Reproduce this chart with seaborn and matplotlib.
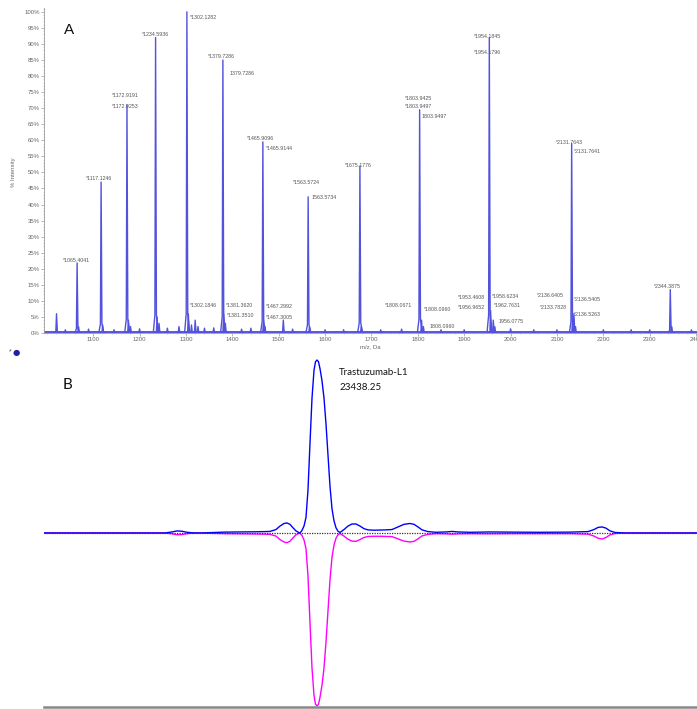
import matplotlib
matplotlib.use("Agg")
import matplotlib.pyplot as plt
import seaborn as sns
import pandas as pd
from matplotlib.ticker import MultipleLocator

sns.set_theme(style="white")
plt.rcParams["font.family"] = ["Liberation Sans", "DejaVu Sans"]

# ---------------- Panel A data (m/z spectrum) ----------------
peak_mz = [1021.0, 1065.40, 1068.5, 1117.12, 1120.5, 1172.92, 1176.0, 1180.5,
           1234.59, 1237.8, 1242.0, 1302.13, 1305.2, 1312.0, 1320.0, 1326.0,
           1379.73, 1381.36, 1385.0, 1465.91, 1467.30, 1470.5, 1510.0,
           1563.57, 1566.5, 1675.18, 1678.0, 1803.94, 1808.07, 1812.0,
           1954.18, 1956.97, 1962.76, 1966.0, 2131.76, 2133.78, 2136.64, 2140.0,
           2344.39, 2347.5]
peak_int = [6.0, 21.8, 2.0, 47.0, 2.5, 71.0, 4.0, 2.0,
            92.0, 5.0, 3.0, 100.0, 6.0, 2.5, 4.0, 2.0,
            85.0, 6.0, 3.0, 59.5, 4.0, 2.0, 4.0,
            42.4, 2.0, 52.0, 2.0, 69.5, 4.0, 2.0,
            92.0, 7.0, 4.0, 2.0, 59.0, 5.0, 6.0, 2.0,
            13.5, 2.0]
noise_mz = [1040, 1090, 1145, 1200, 1260, 1285, 1340, 1360, 1420, 1440, 1530, 1600,
            1640, 1720, 1765, 1850, 1900, 2000, 2050, 2100, 2200, 2260, 2300, 2390]
noise_int = [1.0, 1.2, 1.0, 1.3, 1.5, 2.0, 1.5, 1.6, 1.2, 1.5, 1.2, 1.0,
             1.0, 1.0, 1.2, 1.0, 1.0, 1.3, 1.0, 1.0, 1.0, 1.0, 1.0, 1.0]

label_text = ["*1065.4041", "*1117.1246", "*1172.9191", "*1172.9253", "*1234.5936",
              "*1302.1282", "*1379.7286", "1379.7286", "*1465.9096", "*1465.9144",
              "*1563.5724", "1563.5734", "*1675.1776", "*1803.9425", "*1803.9497",
              "1803.9497", "*1954.1845", "*1954.1796", "*2131.7643", "*2131.7641",
              "*2344.3875", "*1302.1846", "*1381.3620", "*1381.3510", "*1467.2992",
              "*1467.3005", "*1808.0671", "*1808.0960", "1808.0960", "*1953.4608",
              "*1958.6234", "*1956.9652", "*1962.7631", "1956.0775", "*2136.6405",
              "*2136.5405", "*2133.7828", "*2136.5263"]
label_mz = [1035.1, 1084.6, 1140.6, 1140.6, 1205.2,
            1308.5, 1347.3, 1394.6, 1431.2, 1472.1,
            1530.2, 1571.1, 1642.2, 1771.4, 1771.4,
            1808.0, 1922.0, 1922.0, 2098.5, 2137.3,
            2309.6, 1308.5, 1386.0, 1388.0, 1472.0,
            1472.0, 1728.2, 1812.3, 1825.2, 1885.5,
            1960.8, 1885.5, 1965.1, 1973.7, 2057.7,
            2137.3, 2064.2, 2137.3]
label_pct = [22.7, 48.0, 73.8, 70.4, 93.1,
             98.1, 86.0, 80.7, 60.7, 57.3,
             47.0, 42.1, 52.3, 72.9, 70.4,
             67.3, 92.2, 87.2, 59.2, 56.4,
             14.6, 8.7, 8.7, 5.3, 8.1,
             4.7, 8.7, 7.2, 1.9, 10.9,
             11.5, 7.8, 8.7, 3.7, 11.8,
             10.3, 7.8, 5.9]
xtick_values = list(range(1100, 2401, 100))
ytick_values = list(range(0, 101, 5))

# ---------------- Panel B data (deconvoluted mass profile) ----------------
mass_b = [22755.75, 23058.25, 23075.75, 23088.25, 23100.75, 23113.25, 23125.75, 23145.75,
          23170.75, 23208.25, 23245.75, 23283.25, 23308.25, 23320.75, 23335.75, 23345.75,
          23355.75, 23363.25, 23370.75, 23378.25, 23385.75, 23393.25, 23395.75, 23400.75,
          23405.75, 23410.75, 23415.75, 23420.75, 23425.75, 23430.75, 23434.5, 23438.25,
          23442.0, 23445.75, 23450.75, 23455.75, 23460.75, 23465.75, 23470.75, 23475.75,
          23480.75, 23485.75, 23490.75, 23495.75, 23505.75, 23515.75, 23525.75, 23535.75,
          23545.75, 23555.75, 23565.75, 23580.75, 23595.75, 23610.75, 23625.75, 23640.75,
          23655.75, 23670.75, 23680.75, 23690.75, 23700.75, 23715.75, 23735.75, 23760.75,
          23775.75, 23790.75, 23820.75, 23870.75, 23920.75, 23995.75, 24070.75, 24115.75,
          24130.75, 24140.75, 24150.75, 24160.75, 24170.75, 24183.25, 24208.25, 24388.25]
blue_b = [0, 0, 0.6, 1.2, 1.0, 0.4, 0.1, 0,
          0.2, 0.5, 0.6, 0.7, 0.8, 0.9, 2.0, 4.0,
          5.5, 5.8, 5.0, 3.0, 1.2, 0.2, 0, 1.5,
          4, 9, 25, 52, 78, 94, 99, 100,
          99, 95, 88, 78, 63, 45, 27, 14,
          7, 3, 1, 0.3, 2.0, 4.0, 5.2, 5.2,
          4.0, 2.5, 1.8, 1.6, 1.7, 1.8, 2.0, 3.5,
          5.0, 5.5, 5.0, 3.5, 1.8, 0.8, 0.4, 0.6,
          0.9, 0.6, 0.4, 0.6, 0.5, 0.4, 0.5, 0.8,
          2.0, 3.2, 3.5, 2.8, 1.2, 0.3, 0, 0]
magenta_b = [0, 0, -0.5, -1.0, -0.9, -0.4, -0.1, 0,
             -0.2, -0.4, -0.5, -0.6, -0.7, -0.8, -1.8, -3.8,
             -5.2, -5.6, -4.8, -2.8, -1.0, -0.2, 0, -1.5,
             -4, -9, -25, -52, -78, -94, -99, -100,
             -99, -95, -88, -78, -63, -45, -27, -14,
             -7, -3, -1, -0.3, -1.8, -3.6, -4.7, -4.8,
             -3.8, -2.6, -2.0, -1.9, -1.9, -2.0, -2.1, -3.4,
             -4.7, -5.2, -4.8, -3.4, -1.7, -0.8, -0.4, -0.5,
             -0.7, -0.5, -0.4, -0.5, -0.4, -0.4, -0.4, -0.7,
             -1.8, -3.0, -3.5, -2.6, -1.1, -0.3, 0, 0]
peak_name = "Trastuzumab-L1"
peak_mass = "23438.25"

# ---------------- figure ----------------
W, H = 697, 709
fig = plt.figure(figsize=(W / 100, H / 100), dpi=100)


def px_axes(l, t, r, b):
    return fig.add_axes([l / W, 1 - b / H, (r - l) / W, (b - t) / H])


# build stick profile table from peak lists
rows = []
all_mz = peak_mz + noise_mz
all_int = peak_int + noise_int
for i, (m, v) in enumerate(zip(all_mz, all_int)):
    for dx, f in [(-5.0, 0.0), (-1.5, 0.06), (0.0, 1.0), (1.8, 0.06), (6.0, 0.0)]:
        rows.append({"peak": i, "mz": m + dx, "inten": v * f})
spec = pd.DataFrame(rows)

axA = px_axes(44, 8, 697, 333)
axA.axhline(0.25, color="#4a4ad6", lw=1.3, zorder=1)
sns.lineplot(data=spec, x="mz", y="inten", units="peak", estimator=None,
             color="#5252dc", lw=1.0, ax=axA, legend=False)
for t, x, y in zip(label_text, label_mz, label_pct):
    axA.text(x, y, t, fontsize=3.8, color="#555555", ha="left", va="center")

axA.set_xlim(994, 2402)
axA.set_ylim(0, 101.2)
for s in ["top", "right"]:
    axA.spines[s].set_visible(False)
for s in ["left", "bottom"]:
    axA.spines[s].set_color("#9a9a9a")
    axA.spines[s].set_linewidth(0.6)
axA.set_xticks(xtick_values)
axA.set_xticklabels([str(v) for v in xtick_values])
axA.set_yticks(ytick_values)
axA.set_yticklabels([f"{v}%" for v in ytick_values])
axA.yaxis.set_minor_locator(MultipleLocator(1))
axA.xaxis.set_minor_locator(MultipleLocator(20))
axA.tick_params(which="both", left=True, bottom=True)
axA.tick_params(which="major", labelsize=4.3, labelcolor="#666666", color="#9a9a9a",
                length=2, width=0.5, pad=1.2)
axA.tick_params(which="minor", length=1, width=0.4, color="#aaaaaa")
axA.set_xlabel("m/z, Da", fontsize=4.3, color="#666666", labelpad=1.5)
axA.set_ylabel("")
fig.text(13 / W, 1 - 172 / H, "% Intensity", rotation=90, fontsize=4.3,
         color="#666666", ha="center", va="center")
fig.text(69 / W, 1 - 30 / H, "A", fontsize=11, ha="center", va="center", color="#111111")

# marker under panel A
fig.text(10 / W, 1 - 352 / H, "*", fontsize=5, color="#555555", ha="center", va="center")
fig.text(16 / W, 1 - 352 / H, "●", fontsize=6, color="#1f1fa8", ha="center", va="center",
         family=["DejaVu Sans"])

# ---------------- Panel B ----------------
axB = px_axes(44, 355, 697, 707)
sns.lineplot(x=mass_b, y=magenta_b, color="#ff00ff", lw=1.0, ax=axB, sort=False,
             estimator=None, zorder=2)
sns.lineplot(x=mass_b, y=blue_b, color="#0000ff", lw=1.0, ax=axB, sort=False,
             estimator=None, zorder=3)
axB.axhline(0, color="#333333", ls=(0, (1, 1)), lw=0.9, zorder=4)
axB.set_xlim(22755.75, 24388.25)
axB.set_ylim(-100.6, 102.9)
for s in ["top", "right", "left"]:
    axB.spines[s].set_visible(False)
axB.spines["bottom"].set_color("#888888")
axB.spines["bottom"].set_linewidth(1.8)
axB.set_xticks([])
axB.set_yticks([])
axB.set_xlabel("")
axB.set_ylabel("")

fig.text(67 / W, 1 - 385 / H, "B", fontsize=11, ha="center", va="center",
         family=["Lato", "DejaVu Sans"], color="#111111")
fig.text(339 / W, 1 - 373 / H, peak_name, fontsize=7, ha="left", va="center",
         family=["Lato", "DejaVu Sans"], color="#111111")
fig.text(339 / W, 1 - 387 / H, peak_mass, fontsize=7, ha="left", va="center",
         family=["Lato", "DejaVu Sans"], color="#111111")

fig.savefig("out.png", dpi=100)
